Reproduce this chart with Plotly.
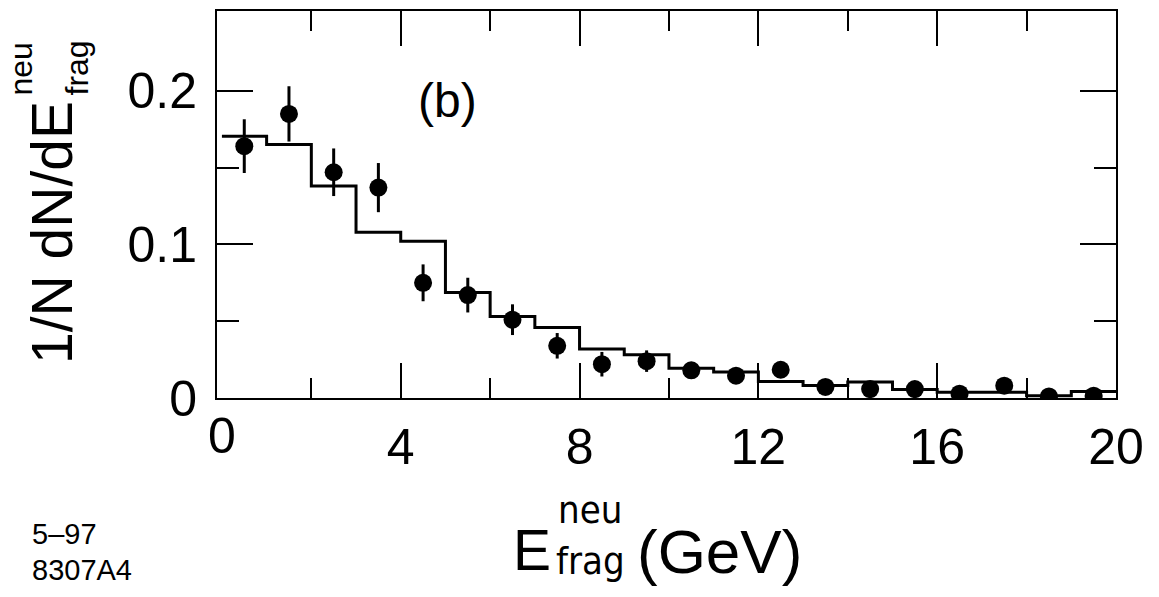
import plotly.graph_objects as go

# Measured spectrum: bin centres (GeV), normalised rate and statistical errors
e_centers = [0.5, 1.5, 2.5, 3.5, 4.5, 5.5, 6.5, 7.5, 8.5, 9.5,
             10.5, 11.5, 12.5, 13.5, 14.5, 15.5, 16.5, 17.5, 18.5, 19.5]
data_rate = [0.164, 0.185, 0.147, 0.137, 0.075, 0.067, 0.051, 0.034, 0.022, 0.024,
             0.018, 0.0145, 0.0184, 0.0072, 0.0058, 0.0058, 0.0028, 0.008, 0.001, 0.0015]
data_err = [0.0175, 0.018, 0.0155, 0.016, 0.012, 0.0113, 0.010, 0.0083, 0.008, 0.007,
            0.005, 0.005, 0.005, 0.004, 0.004, 0.004, 0.003, 0.004, 0.003, 0.003]

# Simulated spectrum, one value per 1 GeV bin
bin_edges = list(range(0, 21))
mc_rate = [0.1705, 0.165, 0.138, 0.108, 0.102, 0.0687, 0.0531, 0.0459, 0.0319, 0.0282,
           0.0193, 0.0169, 0.0108, 0.0082, 0.0104, 0.0056, 0.0037, 0.0037, 0.0014, 0.0042]

x_major = [4, 8, 12, 16, 20]
x_minor = [2, 6, 10, 14, 18]
y_major = [0, 0.1, 0.2]
y_major_text = ["0", "0.1", "0.2"]
y_minor = [0.05, 0.15]

FONT = "Liberation Sans, Arial, Helvetica, sans-serif"
NARROW = "Liberation Sans Narrow, Arial Narrow, DejaVu Sans Condensed, Liberation Sans, Arial"

# plot frame in pixels
L, R, T, B = 217, 1116, 11, 398
W, H = 1159, 597


def px(x):
    return (x - L) / (R - L)


def py(y):
    return (B - y) / (B - T)


fig = go.Figure()

# histogram of the simulation, drawn as a step line
fig.add_trace(go.Scatter(
    x=bin_edges, y=mc_rate + [mc_rate[-1]],
    mode="lines", line=dict(shape="hv", color="black", width=3),
    xaxis="x2", hoverinfo="skip",
))

# data points with vertical error bars
fig.add_trace(go.Scatter(
    x=e_centers, y=data_rate, mode="markers",
    marker=dict(size=18, color="black"),
    error_y=dict(type="data", array=data_err, visible=True,
                 thickness=3, width=0, color="black"),
))

xrange = [-0.11, 20]
tick_font = dict(family=FONT, size=50, color="black")

fig.update_layout(
    width=W, height=H,
    margin=dict(l=L, r=W - R, t=T, b=H - B, autoexpand=False),
    plot_bgcolor="white", paper_bgcolor="white",
    showlegend=False,
    xaxis=dict(
        range=xrange, showline=True, linecolor="black", linewidth=2,
        mirror="ticks", ticks="inside", ticklen=35, tickwidth=2, tickcolor="black",
        tickmode="array", tickvals=x_major, ticktext=[str(v) for v in x_major],
        minor=dict(tickmode="array", tickvals=x_minor, ticks="inside",
                   ticklen=20, tickwidth=2, tickcolor="black"),
        showgrid=False, zeroline=False, tickfont=tick_font,
        ticklabelstandoff=4,
    ),
    xaxis2=dict(
        range=xrange, overlaying="x", anchor="y", side="bottom",
        tickmode="array", tickvals=[0], ticktext=["0"], ticks="",
        showline=False, showgrid=False, zeroline=False, tickfont=tick_font,
        ticklabelstandoff=4,
    ),
    yaxis=dict(
        range=[0, 0.252], showline=True, linecolor="black", linewidth=2,
        mirror="ticks", ticks="inside", ticklen=36, tickwidth=2, tickcolor="black",
        tickmode="array", tickvals=y_major, ticktext=y_major_text,
        minor=dict(tickmode="array", tickvals=y_minor, ticks="inside",
                   ticklen=22, tickwidth=2, tickcolor="black"),
        showgrid=False, zeroline=False, tickfont=tick_font,
        ticklabelstandoff=8,
    ),
)

ann = []


def text(s, x, y, size, family=FONT, angle=0, xanchor="center", yanchor="middle"):
    ann.append(dict(text=s, x=px(x), y=py(y), xref="paper", yref="paper",
                    showarrow=False, xanchor=xanchor, yanchor=yanchor,
                    textangle=angle, font=dict(family=family, size=size, color="black")))


# panel label
text("(b)", 447, 100, 48)

# x-axis title: E with stacked super/subscript, then the unit
text("E", 532, 550, 57)
text("neu", 590, 510, 38, NARROW)
text("frag", 590, 561, 38, NARROW)
text("(GeV)", 719, 551, 62)

# y-axis title, rotated
text("1/N dN/dE", 52, 233, 57, angle=-90)
text("neu", 21, 98, 32, angle=-90, yanchor="bottom")
text("frag", 77, 98, 32, angle=-90, yanchor="bottom")

# figure reference
text("5\u201397", 30, 534, 29, xanchor="left")
text("8307A4", 30, 570, 29, xanchor="left")

fig.update_layout(annotations=ann)

fig.write_html("out.html")
